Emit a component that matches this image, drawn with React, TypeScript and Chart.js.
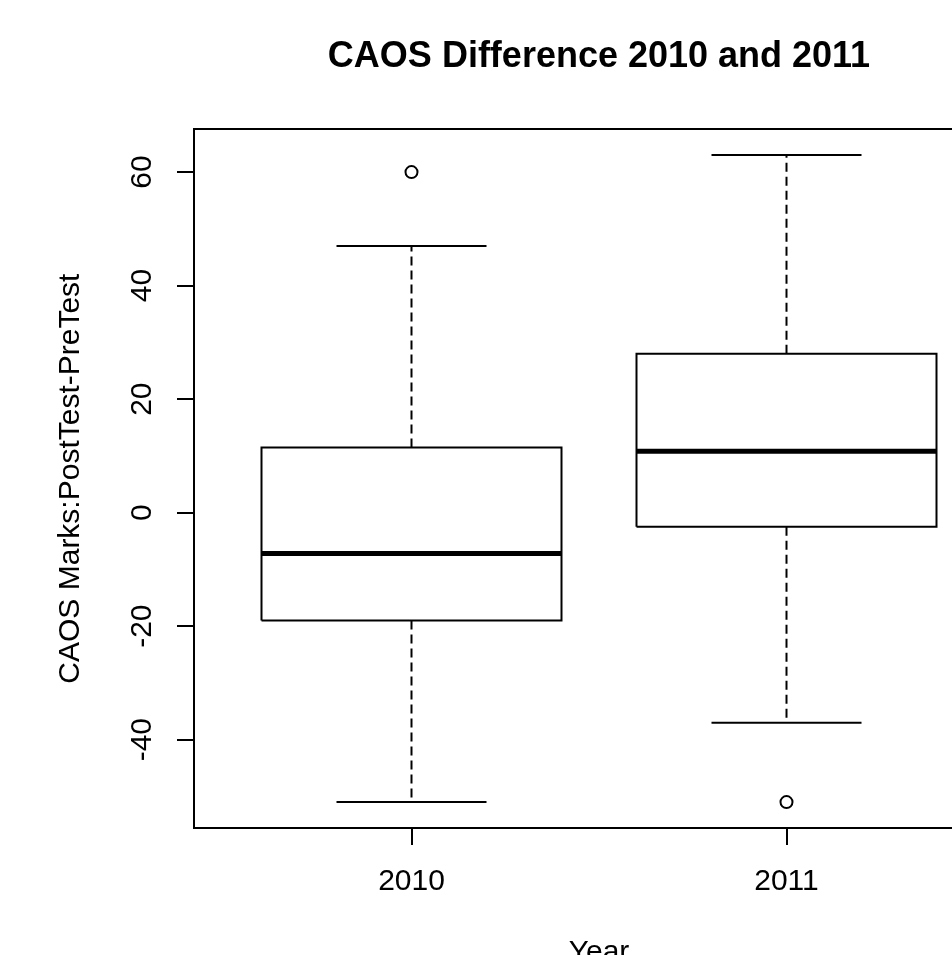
import React, { useEffect, useRef } from 'react';
import { Chart, registerables } from 'chart.js';

Chart.register(...registerables);

// ---- data ----
const categories = ['2010', '2011'];
const lowerWhisker = [-51, -37];
const lowerQuartile = [-19, -2.5];
const medianValues = [-7.2, 10.8];
const upperQuartile = [11.5, 28];
const upperWhisker = [47, 63];
const outliers2010 = [60];
const outliers2011 = [-51];
const outlierValues = [outliers2010, outliers2011];
const yTickValues = [-40, -20, 0, 20, 40, 60];

const TITLE = 'CAOS Difference 2010 and 2011';
const X_TITLE = 'Year';
const Y_TITLE = 'CAOS Marks:PostTest-PreTest';

const FONT = "'Liberation Sans', Arial, Helvetica, sans-serif";
const INK = '#000';
const BOX_HALF = 0.4;
const CAP_HALF = 0.2;

function buildDatasets() {
  const ds: any[] = [];
  const line = (label: string, data: any[], extra: any = {}) => ({
    label,
    data,
    showLine: true,
    borderColor: INK,
    backgroundColor: INK,
    borderWidth: 2,
    pointRadius: 0,
    pointHoverRadius: 0,
    fill: false,
    tension: 0,
    borderCapStyle: 'butt',
    borderJoinStyle: 'miter',
    ...extra,
  });
  categories.forEach((cat, i) => {
    const x = i + 1;
    ds.push(
      line(cat + ' median', [
        { x: x - BOX_HALF, y: medianValues[i] },
        { x: x + BOX_HALF, y: medianValues[i] },
      ], { borderWidth: 5 })
    );
    ds.push(
      line(cat + ' box', [
        { x: x - BOX_HALF, y: lowerQuartile[i] },
        { x: x + BOX_HALF, y: lowerQuartile[i] },
        { x: x + BOX_HALF, y: upperQuartile[i] },
        { x: x - BOX_HALF, y: upperQuartile[i] },
        { x: x - BOX_HALF, y: lowerQuartile[i] },
      ])
    );
    ds.push(
      line(cat + ' upper whisker', [
        { x, y: upperQuartile[i] },
        { x, y: upperWhisker[i] },
      ], { borderDash: [9, 5] })
    );
    ds.push(
      line(cat + ' lower whisker', [
        { x, y: lowerQuartile[i] },
        { x, y: lowerWhisker[i] },
      ], { borderDash: [9, 5] })
    );
    ds.push(
      line(cat + ' upper cap', [
        { x: x - CAP_HALF, y: upperWhisker[i] },
        { x: x + CAP_HALF, y: upperWhisker[i] },
      ])
    );
    ds.push(
      line(cat + ' lower cap', [
        { x: x - CAP_HALF, y: lowerWhisker[i] },
        { x: x + CAP_HALF, y: lowerWhisker[i] },
      ])
    );
    ds.push({
      label: cat + ' outliers',
      data: outlierValues[i].map((v) => ({ x, y: v })),
      showLine: false,
      pointStyle: 'circle',
      pointRadius: 6,
      pointHoverRadius: 6,
      pointBorderWidth: 2,
      pointBorderColor: INK,
      pointBackgroundColor: 'rgba(255,255,255,0)',
      borderColor: INK,
      backgroundColor: 'rgba(255,255,255,0)',
    });
  });
  return ds;
}

export default function App() {
  const ref = useRef<HTMLCanvasElement | null>(null);

  useEffect(() => {
    if (!ref.current) return;
    Chart.defaults.font.family = FONT;
    Chart.defaults.color = INK;
    const chart = new Chart(ref.current, {
      type: 'scatter',
      data: { datasets: buildDatasets() },
      options: {
        animation: false,
        responsive: false,
        events: [],
        layout: { padding: { left: 0, right: 36, top: 0, bottom: 0 } },
        plugins: {
          legend: { display: false },
          tooltip: { enabled: false },
          title: {
            display: true,
            text: TITLE,
            fullSize: false,
            color: INK,
            font: { size: 36, weight: 'bold', family: FONT },
            padding: { top: 35, bottom: 51 },
          },
        },
        scales: {
          x: {
            type: 'linear',
            position: 'bottom',
            min: 0.42,
            max: 2.58,
            bounds: 'data',
            afterBuildTicks: (s: any) => {
              s.ticks = categories.map((_, i) => ({ value: i + 1 }));
            },
            afterFit: (s: any) => {
              s.height = 172;
            },
            ticks: {
              callback: (_v: any, i: number) => categories[i],
              font: { size: 30, family: FONT },
              color: INK,
              padding: 19,
              minRotation: 0,
              maxRotation: 0,
              autoSkip: false,
            },
            grid: {
              display: true,
              drawOnChartArea: false,
              drawTicks: true,
              tickLength: 17,
              color: INK,
              lineWidth: 2,
            },
            border: { display: true, color: INK, width: 2 },
            title: {
              display: true,
              text: X_TITLE,
              color: INK,
              font: { size: 30, family: FONT },
              padding: { top: 0, bottom: 29 },
            },
          },
          x2: {
            type: 'linear',
            position: 'top',
            min: 0.42,
            max: 2.58,
            bounds: 'data',
            ticks: { display: false },
            grid: { display: false, drawTicks: false },
            border: { display: true, color: INK, width: 2 },
            afterFit: (s: any) => {
              s.height = 0;
            },
          },
          y: {
            type: 'linear',
            position: 'left',
            min: -55.56,
            max: 67.56,
            bounds: 'data',
            afterBuildTicks: (s: any) => {
              s.ticks = yTickValues.map((v) => ({ value: v }));
            },
            afterFit: (s: any) => {
              s.width = 194;
            },
            ticks: {
              font: { size: 30, family: FONT },
              color: INK,
              padding: 13,
              minRotation: 90,
              maxRotation: 90,
              crossAlign: 'center',
              autoSkip: false,
            },
            grid: {
              display: true,
              drawOnChartArea: false,
              drawTicks: true,
              tickLength: 17,
              color: INK,
              lineWidth: 2,
            },
            border: { display: true, color: INK, width: 2 },
            title: {
              display: true,
              text: Y_TITLE,
              color: INK,
              font: { size: 30, family: FONT },
              padding: { top: 53, bottom: 0 },
            },
          },
        },
      } as any,
    });
    return () => chart.destroy();
  }, []);

  return (
    <div
      style={{
        position: 'fixed',
        left: 0,
        top: 0,
        width: 952,
        height: 955,
        overflow: 'hidden',
        background: '#fff',
      }}
    >
      <canvas ref={ref} width={1040} height={1000} style={{ display: 'block' }} />
    </div>
  );
}
